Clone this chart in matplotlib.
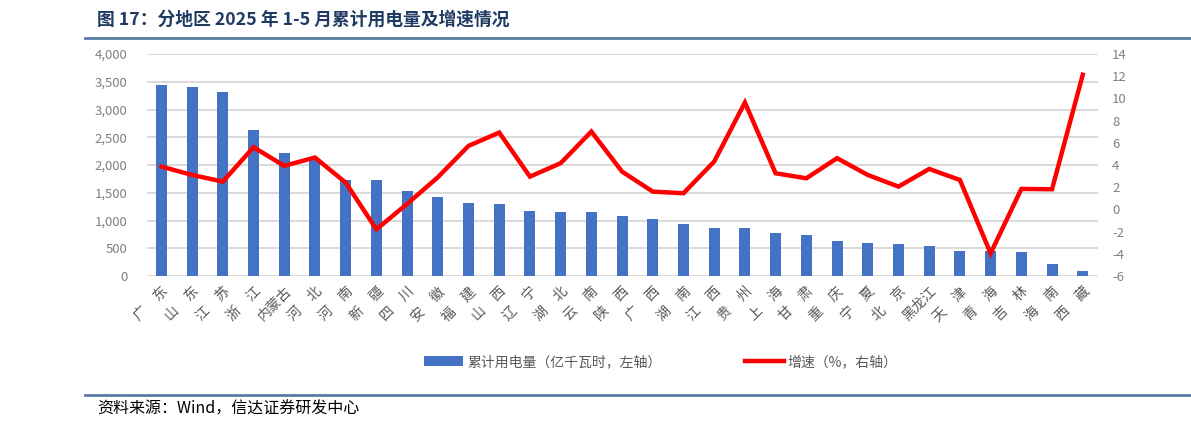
import matplotlib
matplotlib.use('Agg')
import matplotlib.pyplot as plt
import numpy as np
from matplotlib.lines import Line2D
from matplotlib.patches import Patch

plt.rcParams['font.family'] = ['Noto Sans CJK SC', 'DejaVu Sans']
plt.rcParams['axes.unicode_minus'] = False

# data
provinces = ['广　东', '山　东', '江　苏', '浙　江', '内蒙古', '河　北', '河　南', '新　疆', '四　川', '安　徽',
             '福　建', '山　西', '辽　宁', '湖　北', '云　南', '陕　西', '广　西', '湖　南', '江　西', '贵　州',
             '上　海', '甘　肃', '重　庆', '宁　夏', '北　京', '黑龙江', '天　津', '青　海', '吉　林', '海　南', '西　藏']
usage = [3435, 3405, 3320, 2629, 2226, 2090, 1738, 1738, 1534, 1420,
         1311, 1300, 1173, 1161, 1149, 1077, 1035, 944, 872, 860,
         770, 746, 626, 602, 571, 535, 451, 445, 427, 223, 84]
growth = [3.86, 3.11, 2.51, 5.61, 3.93, 4.68, 2.42, -1.79, 0.5, 2.9,
          5.73, 6.93, 2.96, 4.17, 7.02, 3.41, 1.61, 1.46, 4.32, 9.64,
          3.26, 2.81, 4.62, 3.11, 2.06, 3.65, 2.66, -3.95, 1.85, 1.82, 12.14]
left_ticks = [0, 500, 1000, 1500, 2000, 2500, 3000, 3500, 4000]
right_ticks = [-6, -4, -2, 0, 2, 4, 6, 8, 10, 12, 14]

title = '图 17：分地区 2025 年 1-5 月累计用电量及增速情况'
source = '资料来源：Wind，信达证券研发中心'
bar_label = '累计用电量（亿千瓦时，左轴）'
line_label = '增速（%，右轴）'

blue = '#4472C4'
red = '#FF0000'
grey = '#808080'
navy = '#1f3a63'

fig = plt.figure(figsize=(11.91, 4.26), dpi=100)
ax = fig.add_axes([0.1234, 0.352, 0.7986, 0.521])
x = np.arange(len(provinces))

ax.bar(x, usage, width=0.36, color=blue, zorder=2)
ax.set_ylim(0, 4000)
ax.set_yticks(left_ticks)
ax.set_yticklabels([f'{v:,}' for v in left_ticks])
ax.set_xlim(-0.47, len(provinces) - 0.5)
ax.set_xticks(x)
ax.set_xticklabels(provinces, rotation=45, ha='right', rotation_mode='anchor', fontsize=10)
ax.grid(axis='y', color='#d9d9d9', linewidth=1.4, zorder=0)
ax.set_axisbelow(True)
for s in ax.spines.values():
    s.set_visible(False)
ax.tick_params(axis='both', length=0, colors=grey, labelsize=9.5)
ax.tick_params(axis='x', pad=6, labelcolor='#595959', labelsize=10)
ax.tick_params(axis='y', pad=14)

ax2 = ax.twinx()
ax2.plot(x, growth, color=red, linewidth=3.2, solid_joinstyle='miter', zorder=3)
ax2.set_ylim(-6, 14)
ax2.set_yticks(right_ticks)
for s in ax2.spines.values():
    s.set_visible(False)
ax2.tick_params(axis='y', length=0, colors=grey, labelsize=9.5, pad=10)

# title and rules
fig.text(97 / 1191, 1 - 20 / 426, title, fontsize=12.8, fontweight='bold', color=navy, va='center')
fig.add_artist(Line2D([85 / 1191, 1], [1 - 38 / 426, 1 - 38 / 426], color='#5b7ba3', linewidth=2))
fig.add_artist(Line2D([85 / 1191, 1], [1 - 395 / 426, 1 - 395 / 426], color='#5b7ba3', linewidth=2))
fig.text(97 / 1191, 1 - 409 / 426, source, fontsize=11.5, style='italic', color='black', va='center')

handles = [Patch(facecolor=blue), Line2D([0], [0], color=red, linewidth=3.2)]
fig.legend(handles, [bar_label, line_label], loc='center', bbox_to_anchor=(0.555, 1 - 362 / 426),
           ncol=2, frameon=False, fontsize=10, labelcolor='#595959', columnspacing=6,
           handlelength=2.8, handletextpad=0.3)

fig.savefig('out.png', dpi=100)
